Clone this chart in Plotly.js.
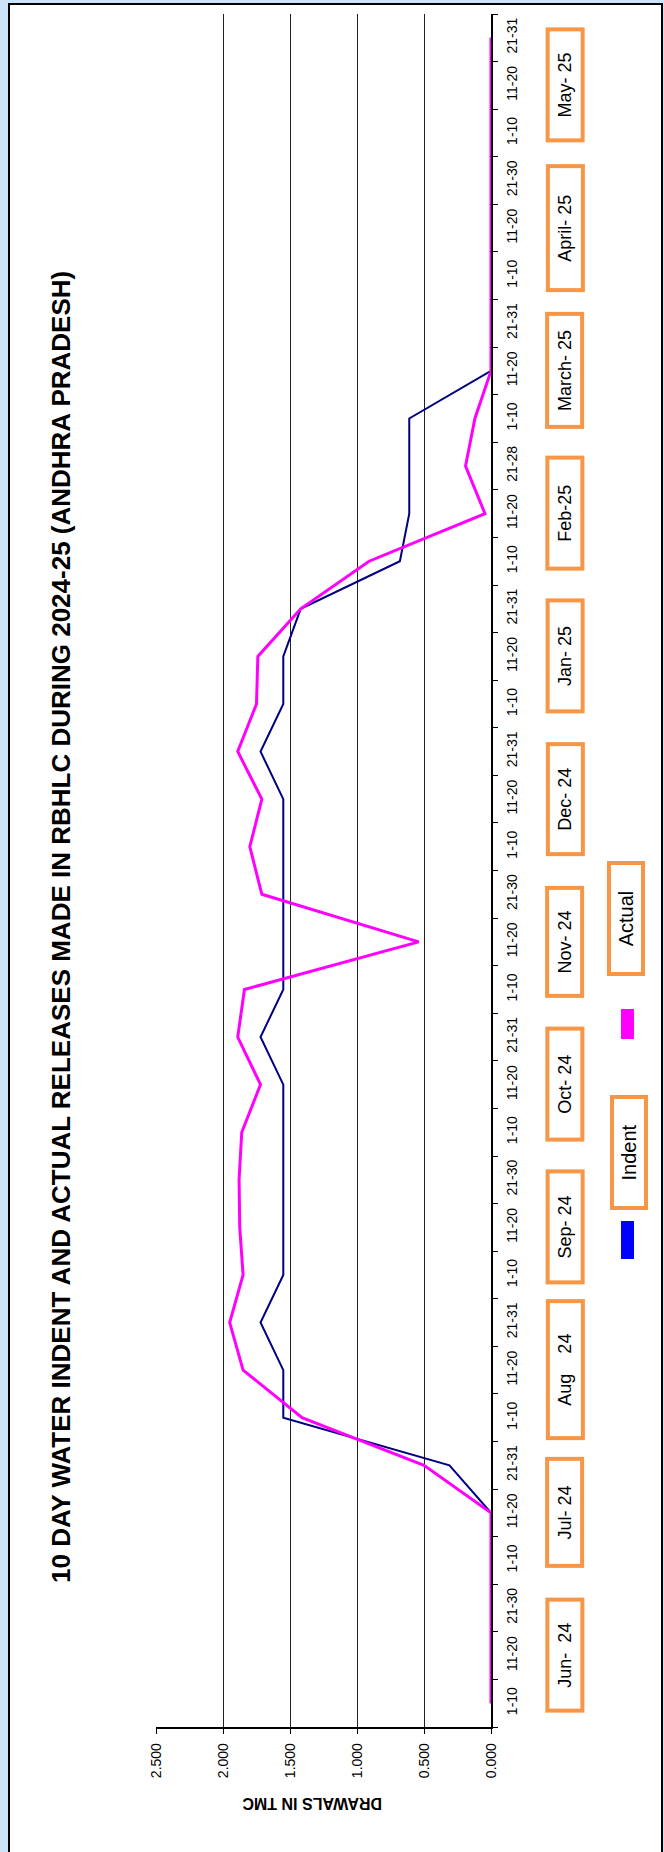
<!DOCTYPE html>
<html>
<head>
<meta charset="utf-8">
<script src="https://cdn.plot.ly/plotly-3.0.1.min.js"></script>
<style>
html,body{margin:0;padding:0;background:#cde3f8;}
#chart{width:664px;height:1852px;}
</style>
</head>
<body>
<div id="chart"></div>
<script>
// ---------- DATA ----------
const months = ["Jun-  24", "Jul- 24", "Aug    24", "Sep- 24", "Oct- 24", "Nov- 24",
                "Dec- 24", "Jan- 25", "Feb-25", "March- 25", "April- 25", "May- 25"];
const periods = [
  "1-10","11-20","21-30",  "1-10","11-20","21-31",  "1-10","11-20","21-31",
  "1-10","11-20","21-30",  "1-10","11-20","21-31",  "1-10","11-20","21-30",
  "1-10","11-20","21-31",  "1-10","11-20","21-31",  "1-10","11-20","21-28",
  "1-10","11-20","21-31",  "1-10","11-20","21-30",  "1-10","11-20","21-31"
];
const indent = [0, 0, 0, 0, 0, 0.31, 1.55, 1.55, 1.72, 1.55, 1.55, 1.55,
                1.55, 1.55, 1.72, 1.55, 1.55, 1.55, 1.55, 1.55, 1.72, 1.55, 1.55, 1.42,
                0.68, 0.61, 0.61, 0.61, 0, 0, 0, 0, 0, 0, 0, 0];
const actual = [0, 0, 0, 0, 0, 0.50, 1.41, 1.85, 1.95, 1.85, 1.875, 1.88,
                1.86, 1.72, 1.89, 1.84, 0.54, 1.71, 1.80, 1.71, 1.89, 1.75, 1.74, 1.42,
                0.91, 0.045, 0.19, 0.12, 0, 0, 0, 0, 0, 0, 0, 0];
const valueTicks = [0, 0.5, 1.0, 1.5, 2.0, 2.5];
const seriesNames = ["Indent", "Actual"];
const titleText = "10 DAY WATER INDENT AND ACTUAL RELEASES MADE IN RBHLC DURING 2024-25 (ANDHRA PRADESH)";
const axisTitle = "DRAWALS IN TMC";

// ---------- GEOMETRY (pixel layout of the page) ----------
const W = 664, H = 1852;
const L = 156, R = 491, T = 14, B = 1727;
const pw = R - L, ph = B - T;
const px = x => (x - L) / pw;
const py = y => (B - y) / ph;

const idx = periods.map((_, i) => i);
const bounds = periods.map((_, i) => i - 0.5).concat([periods.length - 0.5]);

const ORANGE = '#f79646';
const FONT = 'Liberation Sans, Arial, sans-serif';
const boxLen = [115, 111, 141, 115, 115, 112, 114, 115, 115, 117, 128, 115];

const traces = [
  {x: indent, y: idx, type: 'scatter', mode: 'lines', name: seriesNames[0],
   line: {color: '#000080', width: 2}, hoverinfo: 'x+y'},
  {x: actual, y: idx, type: 'scatter', mode: 'lines', name: seriesNames[1],
   line: {color: '#ff00ff', width: 3}, hoverinfo: 'x+y'}
];

const annotations = [];
// Title (rotated)
annotations.push({
  text: '<b>' + titleText + '</b>', xref: 'paper', yref: 'paper',
  x: px(61), y: py(927), showarrow: false, textangle: -90,
  xanchor: 'center', yanchor: 'middle',
  font: {family: FONT, size: 26, color: '#000'}
});
// Value axis title (upside down)
annotations.push({
  text: '<b>' + axisTitle + '</b>', xref: 'paper', yref: 'paper',
  x: px(312), y: py(1804), showarrow: false, textangle: 180,
  xanchor: 'center', yanchor: 'middle',
  font: {family: FONT, size: 16, color: '#000'}
});
// Month boxes
months.forEach((m, k) => {
  annotations.push({
    text: m, xref: 'paper', yref: 'y', x: px(565), y: 3 * k + 1,
    showarrow: false, textangle: -90, xanchor: 'center', yanchor: 'middle',
    width: boxLen[k] - 8, height: 31, borderpad: 0,
    bordercolor: ORANGE, borderwidth: 4, bgcolor: '#ffffff',
    font: {family: FONT, size: 18, color: '#000'}
  });
});
// Legend labels
annotations.push({
  text: seriesNames[0], xref: 'paper', yref: 'paper', x: px(629), y: py(1153),
  showarrow: false, textangle: -90, xanchor: 'center', yanchor: 'middle',
  width: 107, height: 30, borderpad: 0, bordercolor: ORANGE, borderwidth: 4, bgcolor: '#fff',
  font: {family: FONT, size: 20, color: '#000'}
});
annotations.push({
  text: seriesNames[1], xref: 'paper', yref: 'paper', x: px(626), y: py(919),
  showarrow: false, textangle: -90, xanchor: 'center', yanchor: 'middle',
  width: 107, height: 30, borderpad: 0, bordercolor: ORANGE, borderwidth: 4, bgcolor: '#fff',
  font: {family: FONT, size: 20, color: '#000'}
});

const shapes = [
  // white chart frame
  {type: 'rect', xref: 'paper', yref: 'paper', x0: px(9), x1: px(662), y0: py(1870), y1: py(4),
   fillcolor: '#ffffff', line: {color: '#000', width: 2}, layer: 'below'},
  // legend swatches
  {type: 'rect', xref: 'paper', yref: 'paper', x0: px(621), x1: px(634), y0: py(1259), y1: py(1221),
   fillcolor: '#0000ff', line: {width: 0}},
  {type: 'rect', xref: 'paper', yref: 'paper', x0: px(621), x1: px(634), y0: py(1039), y1: py(1009),
   fillcolor: '#ff00ff', line: {width: 0}}
];

const layout = {
  width: W, height: H,
  margin: {l: L, r: W - R, t: T, b: H - B, pad: 0},
  paper_bgcolor: '#cde3f8', plot_bgcolor: '#ffffff',
  showlegend: false,
  xaxis: {
    range: [2.5, 0], tickmode: 'array', tickvals: valueTicks, tickformat: '.3f',
    tickangle: -90, ticks: 'outside', ticklen: 5, tickcolor: '#000', tickwidth: 1,
    showline: true, linecolor: '#000', linewidth: 1.5,
    showgrid: true, gridcolor: '#222', gridwidth: 1, zeroline: false,
    tickfont: {family: FONT, size: 14, color: '#000'}, ticklabelstandoff: 4, fixedrange: true
  },
  yaxis: {
    side: 'right', range: [-0.5, periods.length - 0.5],
    tickmode: 'array', tickvals: idx, ticktext: periods, ticks: '',
    minor: {tickmode: 'array', tickvals: bounds, ticks: 'outside', ticklen: 5, tickcolor: '#000', tickwidth: 1, showgrid: false},
    tickangle: -90, showline: true, linecolor: '#000', linewidth: 2,
    showgrid: false, zeroline: false,
    tickfont: {family: FONT, size: 14, color: '#000'}, ticklabelstandoff: 7, fixedrange: true
  },
  annotations: annotations,
  shapes: shapes
};

Plotly.newPlot('chart', traces, layout, {displayModeBar: false, staticPlot: true});
</script>
</body>
</html>
